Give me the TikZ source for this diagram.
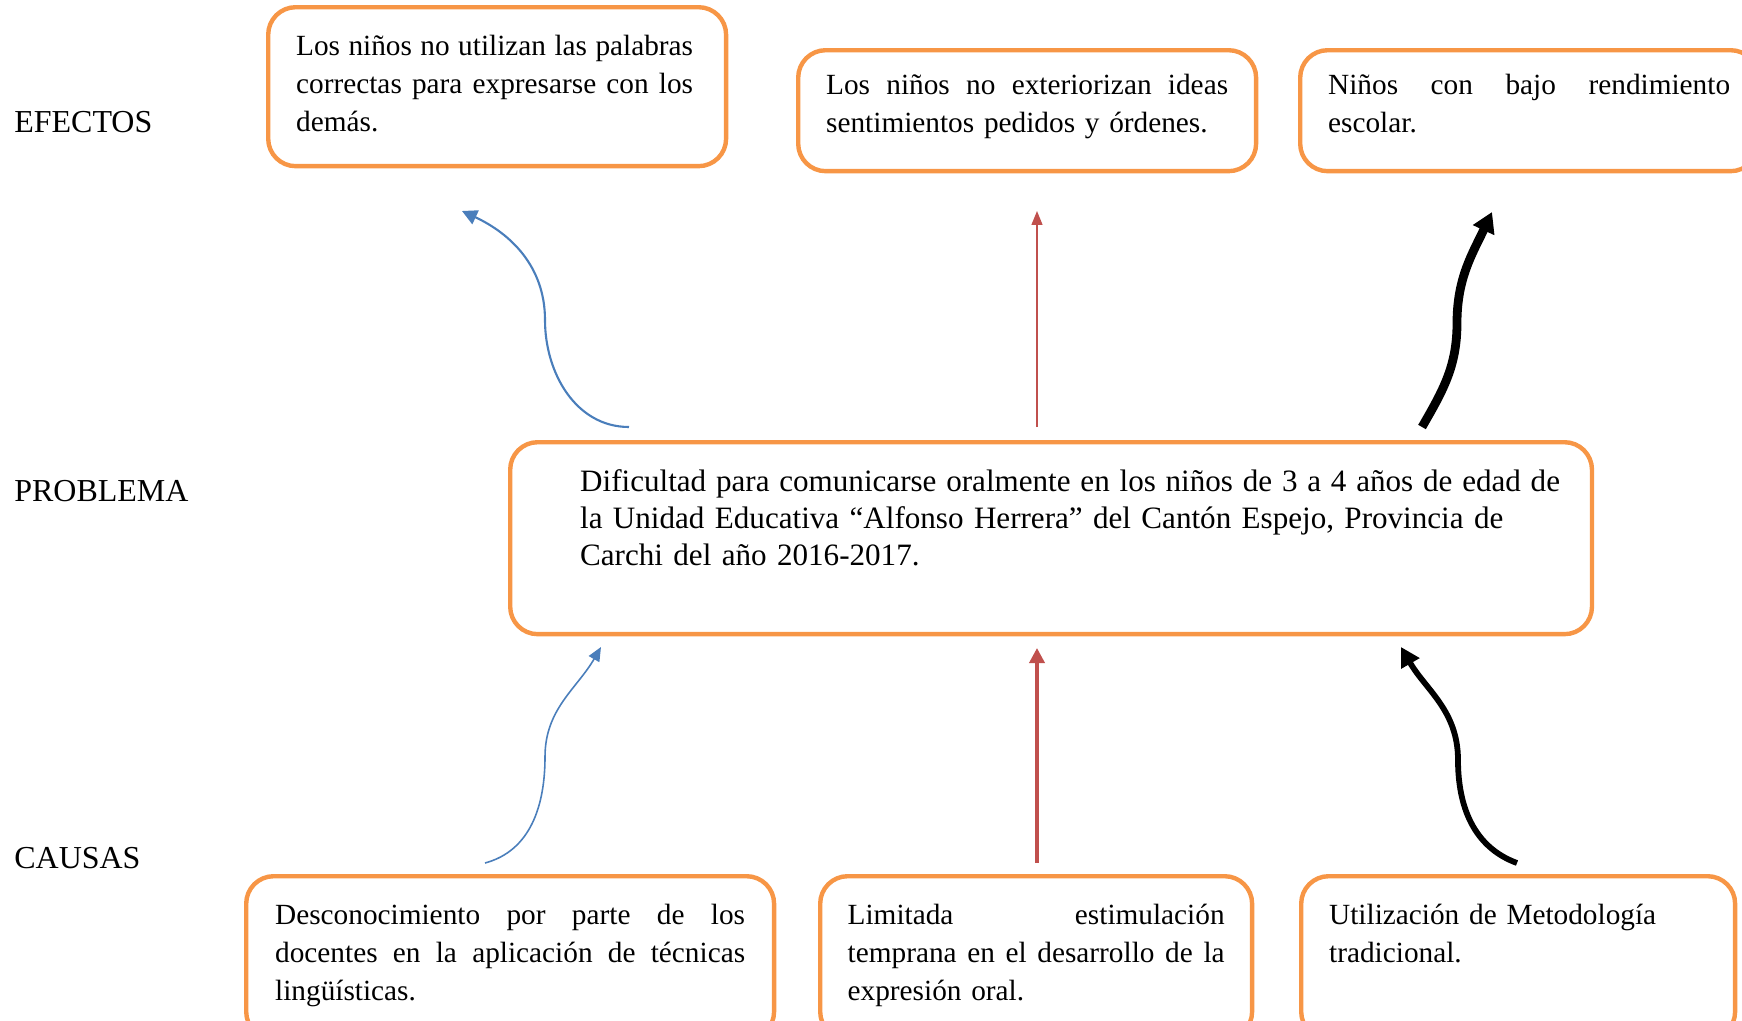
\documentclass[tikz,border=0pt]{standalone}
\usepackage{fontspec}
\setmainfont{Liberation Serif}
\usetikzlibrary{arrows.meta}

\definecolor{cajaOrange}{RGB}{247,150,70}
\definecolor{flechaBlue}{RGB}{74,126,187}
\definecolor{flechaRed}{RGB}{192,80,77}

% justified line of a box: width, text
\newcommand{\jline}[2]{\leavevmode\hbox to #1{\spaceskip=0.25em plus 1fil minus 0.06em\relax #2}}
% indented line of the problem box
\newcommand{\pline}[1]{\hspace*{0.96cm}\mbox{#1}}

\begin{document}
\begin{tikzpicture}[x=0.02cm, y=0.02cm,
  caja/.style={draw=cajaOrange, line width=2.5pt, rounded corners=0.55cm, anchor=north west,
    inner ysep=0pt, align=left, font=\fontsize{16.67}{21.8}\selectfont},
  efectobox/.style={caja, text width=8.04cm, inner xsep=0.56cm, text height=0.88cm, text depth=1.54cm},
  causabox/.style={caja, text height=0.96cm, text depth=2.3cm},
  rotulo/.style={anchor=base west, inner sep=0pt, font=\fontsize{18.2}{22}\selectfont},
  azul/.style={draw=flechaBlue, -{Triangle[length=0.3cm, width=0.3cm]}},
  rojo/.style={draw=flechaRed, -{Triangle[length=0.28cm, width=0.22cm]}},
  negro/.style={draw=black, -{Triangle[length=0.4cm, width=0.45cm]}}
]
\useasboundingbox (0,0) rectangle (1742,-1021);

% row labels
\node[rotulo] (efectos) at (14,-132) {EFECTOS};
\node[rotulo] (problemaLbl) at (14,-501) {PROBLEMA};
\node[rotulo] (causas) at (14,-868) {CAUSAS};

% effects
\node[efectobox, text height=0.96cm, text depth=2.22cm] (efecto1) at (266,-5) {
  \jline{7.94cm}{Los niños no utilizan las palabras}\\
  \jline{7.94cm}{correctas para expresarse con los}\\
  demás.};
\node[efectobox] (efecto2) at (796,-48) {
  \jline{8.04cm}{Los niños no exteriorizan ideas}\\
  sentimientos pedidos y órdenes.};
\node[efectobox] (efecto3) at (1298,-48) {
  \jline{8.04cm}{Niños con bajo rendimiento}\\
  escolar.};

% problem
\node[caja, text width=20.76cm, inner xsep=0.44cm, text height=0.99cm, text depth=2.85cm,
  font=\fontsize{17.7}{20.9}\selectfont] (problema) at (508,-440) {
  \hspace*{0.96cm}\jline{19.6cm}{Dificultad para comunicarse oralmente en los niños de 3 a 4 años de edad de}\\
  \pline{la Unidad Educativa “Alfonso Herrera” del Cantón Espejo, Provincia de}\\
  \pline{Carchi del año 2016-2017.}};

% causes
\node[causabox, text width=9.40cm, inner xsep=0.58cm] (causa1) at (244,-874) {
  \jline{9.40cm}{Desconocimiento por parte de los}\\
  \jline{9.40cm}{docentes en la aplicación de técnicas}\\
  lingüísticas.};
\node[causabox, text width=7.54cm, inner xsep=0.55cm] (causa2) at (818,-874) {
  \jline{7.54cm}{Limitada estimulación}\\
  \jline{7.54cm}{temprana en el desarrollo de la}\\
  expresión oral.};
\node[causabox, text width=7.56cm, inner xsep=0.56cm] (causa3) at (1299,-874) {
  Utilización de Metodología\\
  tradicional.};

% arrow ends and bends
\coordinate (pb1) at (629,-427);
\coordinate (m1) at (545,-320);
\coordinate (ef1) at (462,-211);
\coordinate (pb2) at (1037,-427);
\coordinate (ef2) at (1037,-211);
\coordinate (pb3) at (1422,-427);
\coordinate (m3) at (1457,-323);
\coordinate (ef3) at (1492,-212);
\coordinate (ca1) at (485,-863);
\coordinate (n1) at (545,-757);
\coordinate (pi1) at (601,-647);
\coordinate (ca2) at (1037,-863);
\coordinate (pi2) at (1037,-648);
\coordinate (ca3) at (1517,-863);
\coordinate (n3) at (1458,-760);
\coordinate (pi3) at (1401,-647);

% problem -> effects
\draw[azul, line width=1.2pt] (pb1) to[out=180, in=-90] (m1) to[out=90, in=-25] (ef1);
\draw[rojo, line width=0.8pt] (pb2) -- (ef2);
\draw[negro, line width=5pt] (pb3) to[out=60, in=-90] (m3) to[out=90, in=-115] (ef3);

% causes -> problem
\draw[azul, line width=0.9pt, -{Triangle[length=0.28cm, width=0.24cm]}] (ca1) to[out=15, in=-90] (n1) to[out=90, in=-120] (pi1);
\draw[rojo, line width=2pt, -{Triangle[length=0.3cm, width=0.3cm]}] (ca2) -- (pi2);
\draw[negro, line width=3.3pt, -{Triangle[length=0.38cm, width=0.4cm]}] (ca3) to[out=160, in=-90] (n3) to[out=90, in=-60] (pi3);
\end{tikzpicture}
\end{document}
